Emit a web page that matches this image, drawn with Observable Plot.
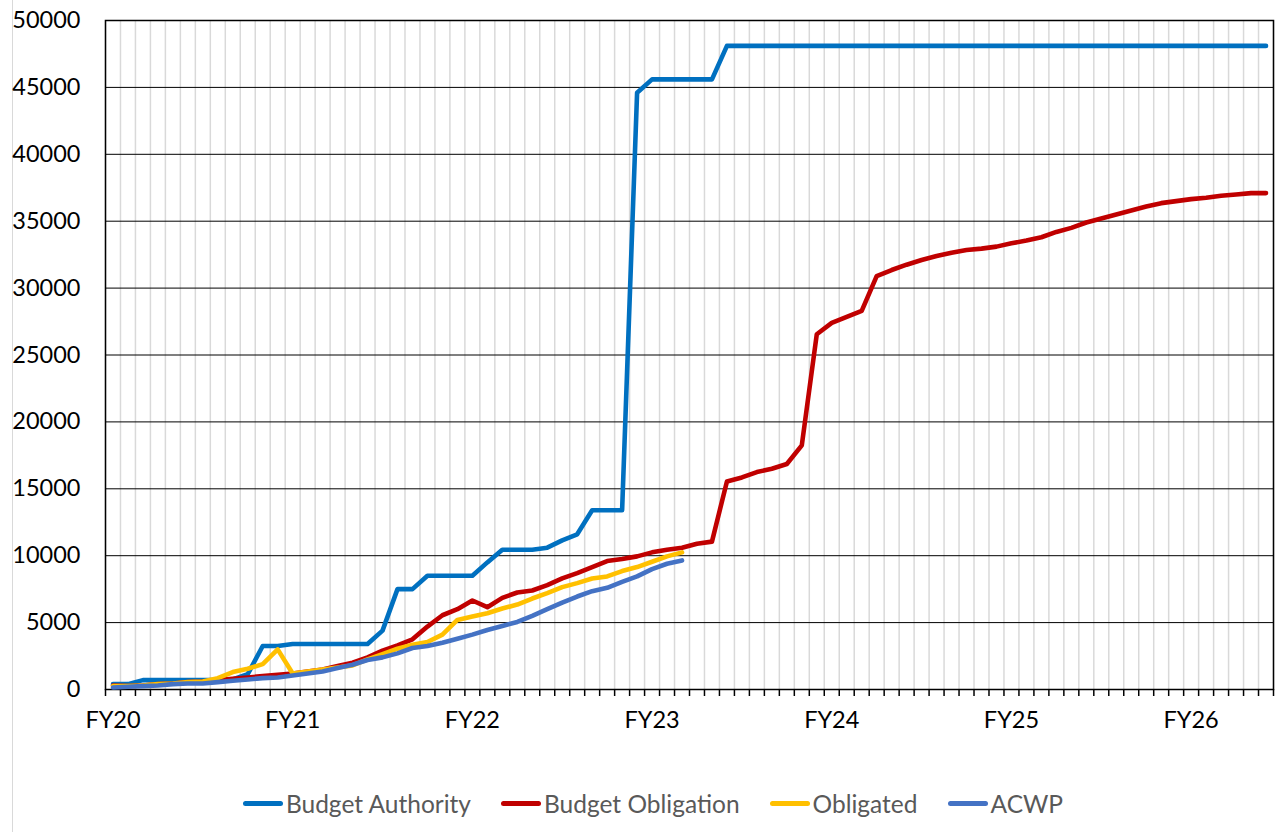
<!DOCTYPE html>
<html>
<head>
<meta charset="utf-8">
<script src="https://cdn.jsdelivr.net/npm/d3@7"></script>
<script src="https://cdn.jsdelivr.net/npm/@observablehq/plot@0.6"></script>
<style>
  html, body { margin: 0; padding: 0; background: #fff; }
  #wrap { position: relative; width: 1279px; height: 832px; overflow: hidden; font-family: Lato, "Open Sans", sans-serif; }
  #border { position: absolute; left: 12px; top: 0; width: 1px; height: 832px; background: #d9d9d9; }
  #chart { position: absolute; left: 0; top: 0; }
  #legend { position: absolute; left: 0; top: 789px; width: 1306px; display: flex; justify-content: center; gap: 30px; font-size: 24.5px; color: #595959; }
  .item { display: flex; align-items: center; }
  .sw { width: 40px; height: 5px; border-radius: 2.5px; margin-right: 3px; }
</style>
</head>
<body>
<div id="wrap">
  <div id="border"></div>
  <div id="chart"></div>
  <div id="legend"></div>
</div>
<script>
// Monthly categories, FY20 (Oct 2019) through FY26 month 6
const monthIndex = d3.range(78);
const fyLabels = ["FY20", "FY21", "FY22", "FY23", "FY24", "FY25", "FY26"];
const fyIndex = [0, 12, 24, 36, 48, 60, 72];
const yTicks = [0, 5000, 10000, 15000, 20000, 25000, 30000, 35000, 40000, 45000, 50000];

const seriesNames = ["Budget Authority", "Budget Obligation", "Obligated", "ACWP"];
const seriesColors = ["#0070C0", "#C00000", "#FFC000", "#4472C4"];

const budgetAuthority = [
  400, 400, 700, 700, 700, 700, 700, 700, 750, 1150,
  3250, 3250, 3400, 3400, 3400, 3400, 3400, 3400, 4400, 7500,
  7500, 8500, 8500, 8500, 8500, 9500, 10450, 10450, 10450, 10600,
  11150, 11600, 13400, 13400, 13400, 44600, 45600, 45600, 45600, 45600,
  45600, 48100, 48100, 48100, 48100, 48100, 48100, 48100, 48100, 48100,
  48100, 48100, 48100, 48100, 48100, 48100, 48100, 48100, 48100, 48100,
  48100, 48100, 48100, 48100, 48100, 48100, 48100, 48100, 48100, 48100,
  48100, 48100, 48100, 48100, 48100, 48100, 48100, 48100
];
const budgetObligation = [
  300, 250, 300, 400, 450, 550, 600, 700, 800, 900,
  1000, 1100, 1200, 1350, 1500, 1750, 2000, 2400, 2900, 3300,
  3750, 4700, 5550, 6000, 6650, 6150, 6850, 7250, 7400, 7800,
  8300, 8700, 9150, 9600, 9750, 9950, 10250, 10450, 10600, 10900,
  11050, 15550, 15850, 16250, 16500, 16850, 18250, 26550, 27400, 27850,
  28300, 30900, 31350, 31750, 32100, 32400, 32650, 32850, 32950, 33100,
  33350, 33550, 33800, 34200, 34500, 34900, 35200, 35500, 35800, 36100,
  36350, 36500, 36650, 36750, 36900, 37000, 37100, 37100
];
const obligated = [
  250, 250, 300, 400, 450, 550, 600, 850, 1300, 1550,
  1900, 3000, 1200, 1350, 1500, 1650, 1800, 2250, 2650, 3050,
  3350, 3550, 4100, 5200, 5450, 5700, 6050, 6350, 6800, 7200,
  7650, 7950, 8300, 8450, 8850, 9150, 9550, 9950, 10250
];
const acwp = [
  150, 200, 250, 300, 400, 450, 450, 550, 650, 750,
  850, 900, 1050, 1200, 1350, 1600, 1850, 2200, 2400, 2700,
  3100, 3250, 3500, 3800, 4100, 4450, 4750, 5050, 5500, 6000,
  6500, 6950, 7350, 7600, 8050, 8450, 9000, 9400, 9650
];

const allSeries = [budgetAuthority, budgetObligation, obligated, acwp];
const rows = allSeries.map(vals => vals.map((v, k) => ({i: monthIndex[k], v})));
const boundaries = d3.range(monthIndex.length + 1).map(k => k - 0.5);

const chart = Plot.plot({
  width: 1279,
  height: 750,
  marginLeft: 105,
  marginRight: 6,
  marginTop: 20,
  marginBottom: 61,
  style: {fontFamily: "Lato, 'Open Sans', sans-serif", fontSize: "23px", color: "#000", background: "transparent"},
  x: {domain: [-0.5, monthIndex.length - 0.5], axis: null},
  y: {domain: [0, 50000], axis: null},
  marks: [
    Plot.ruleX(boundaries, {stroke: "#d9d9d9", strokeWidth: 1.5}),
    Plot.ruleY(yTicks, {stroke: "#000", strokeWidth: 1}),
    Plot.frame({stroke: "#000", strokeWidth: 1.5}),
    Plot.axisX(boundaries, {tickSize: 7, tickFormat: () => "", label: null, stroke: "#000", strokeWidth: 1.5}),
    Plot.axisX(fyIndex, {tickSize: 0, tickPadding: 22, label: null, tickFormat: d => fyLabels[fyIndex.indexOf(d)], fontSize: 23.5}),
    Plot.axisY(yTicks, {tickSize: 0, tickPadding: 25, label: null, tickFormat: d => String(d), fontSize: 23.5}),
    ...rows.map((r, s) => Plot.line(r, {x: "i", y: "v", stroke: seriesColors[s], strokeWidth: 4.6, strokeLinejoin: "round", strokeLinecap: "round"}))
  ]
});
document.getElementById("chart").appendChild(chart);

const legend = document.getElementById("legend");
seriesNames.forEach((name, s) => {
  const item = document.createElement("div");
  item.className = "item";
  const sw = document.createElement("div");
  sw.className = "sw";
  sw.style.background = seriesColors[s];
  const t = document.createElement("span");
  t.textContent = name;
  item.appendChild(sw);
  item.appendChild(t);
  legend.appendChild(item);
});
</script>
</body>
</html>
